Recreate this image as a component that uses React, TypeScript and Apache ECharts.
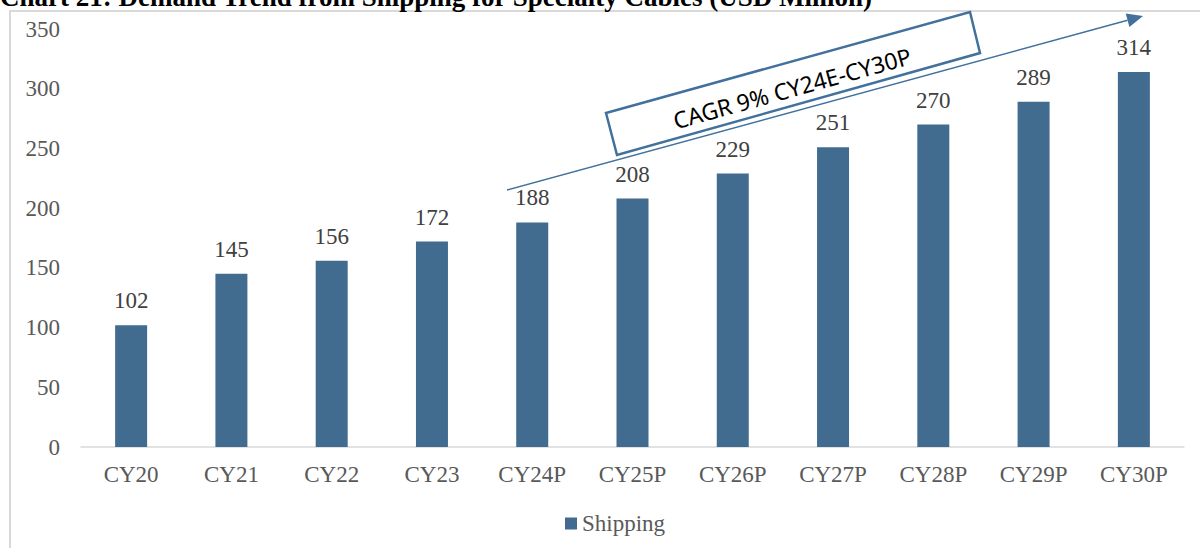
import React, { useEffect, useRef } from "react";
import * as echarts from "echarts";

const categories = ["CY20", "CY21", "CY22", "CY23", "CY24P", "CY25P", "CY26P", "CY27P", "CY28P", "CY29P", "CY30P"];
const shipping = [102, 145, 156, 172, 188, 208, 229, 251, 270, 289, 314];
const yTicks = { min: 0, max: 350, interval: 50 };
const titleText = "Chart 21: Demand Trend from Shipping for Specialty Cables (USD Million)";
const cagrText = "CAGR 9% CY24E-CY30P";

const SERIF = "'Liberation Serif', 'Times New Roman', serif";
const BAR = "#416c90";
const LINE = "#41719c";

export default function App() {
  const ref = useRef<HTMLDivElement>(null);
  useEffect(() => {
    if (!ref.current) return;
    const chart = echarts.init(ref.current, undefined, { renderer: "svg" });
    const tip = [1143, 16];
    const start = [507, 190];
    const dx = tip[0] - start[0];
    const dy = tip[1] - start[1];
    const len = Math.sqrt(dx * dx + dy * dy);
    const ux = dx / len, uy = dy / len;
    const nx = -uy, ny = ux;
    const bx = tip[0] - 16 * ux, by = tip[1] - 16 * uy;
    chart.setOption({
      animation: false,
      backgroundColor: "#ffffff",
      grid: { left: 81, right: 16, top: 29, bottom: 101 },
      xAxis: {
        type: "category",
        data: categories,
        axisLine: { show: true, lineStyle: { color: "#d9d9d9", width: 1.5 } },
        axisTick: { show: false },
        axisLabel: { color: "#595959", fontSize: 23, fontFamily: SERIF, margin: 16 },
      },
      yAxis: {
        type: "value",
        min: yTicks.min,
        max: yTicks.max,
        interval: yTicks.interval,
        axisLine: { show: false },
        axisTick: { show: false },
        splitLine: { show: false },
        axisLabel: { color: "#595959", fontSize: 23, fontFamily: SERIF, margin: 21 },
      },
      legend: {
        data: ["Shipping"],
        left: 560,
        top: 507,
        icon: "rect",
        itemWidth: 12,
        itemHeight: 12,
        itemGap: 10,
        textStyle: { color: "#595959", fontSize: 23, fontFamily: SERIF, padding: [0, 0, 0, 0] },
      },
      series: [
        {
          name: "Shipping",
          type: "bar",
          data: shipping,
          barWidth: 32,
          itemStyle: { color: BAR },
          label: {
            show: true,
            position: "top",
            distance: 13,
            color: "#404040",
            fontSize: 23,
            fontFamily: SERIF,
          },
        },
      ],
      graphic: [
        {
          type: "rect",
          shape: { x: 10, y: 11, width: 1400, height: 700 },
          style: { fill: "none", stroke: "#d9d9d9", lineWidth: 2 },
          silent: true,
          z: -1,
        },
        {
          type: "text",
          x: 0,
          y: -17,
          style: {
            text: titleText,
            font: `bold 27px ${SERIF}`,
            fill: "#000000",
            verticalAlign: "top",
          },
        },
        {
          type: "polygon",
          shape: { points: [[606, 113], [970, 12], [980, 53], [617, 155]] },
          style: { fill: "#ffffff", stroke: LINE, lineWidth: 2.5 },
          z: 10,
        },
        {
          type: "text",
          x: 792,
          y: 88,
          rotation: (15.5 * Math.PI) / 180,
          style: {
            text: cagrText,
            font: "23px 'Noto Sans', 'Open Sans', sans-serif",
            fill: "#000000",
            align: "center",
            verticalAlign: "middle",
          },
          z: 11,
        },
        {
          type: "line",
          shape: { x1: start[0], y1: start[1], x2: bx, y2: by },
          style: { stroke: LINE, lineWidth: 1.5 },
          z: 10,
        },
        {
          type: "polygon",
          shape: {
            points: [
              [tip[0], tip[1]],
              [bx + 7 * nx, by + 7 * ny],
              [bx - 7 * nx, by - 7 * ny],
            ],
          },
          style: { fill: LINE },
          z: 10,
        },
      ],
    });
    return () => chart.dispose();
  }, []);
  return (
    <div
      ref={ref}
      style={{ position: "fixed", left: 0, top: 0, width: 1200, height: 548, background: "#fff" }}
    />
  );
}
